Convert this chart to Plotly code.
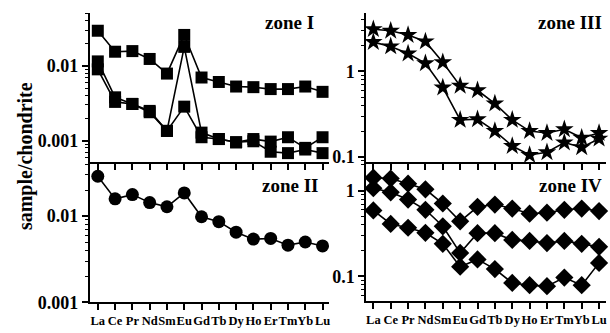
import plotly.graph_objects as go

ree = ["La", "Ce", "Pr", "Nd", "Sm", "Eu", "Gd", "Tb", "Dy", "Ho", "Er", "Tm", "Yb", "Lu"]

zone1_a = [0.0296, 0.0155, 0.0158, 0.0124, 0.0079, 0.026, 0.0070, 0.0061, 0.0053, 0.0052, 0.0049, 0.0049, 0.0053, 0.0045]
zone1_b = [0.0115, 0.0038, 0.0031, 0.0025, 0.00135, 0.018, 0.00128, 0.00105, 0.00095, 0.00105, 0.00097, 0.00111, 0.0008, 0.00111]
zone1_c = [0.009, 0.0033, 0.0031, 0.0024, 0.00135, 0.00285, 0.00111, 0.00105, 0.00095, 0.00098, 0.00071, 0.00068, 0.00076, 0.00068]

zone2 = [0.0289, 0.0158, 0.0177, 0.0143, 0.0128, 0.0185, 0.0098, 0.0086, 0.0065, 0.0054, 0.0055, 0.0046, 0.0050, 0.0045]

zone3_a = [3.1, 2.97, 2.65, 2.23, 1.27, 0.675, 0.60, 0.42, 0.27, 0.20, 0.19, 0.21, 0.167, 0.19]
zone3_b = [2.19, 1.95, 1.61, 1.24, 0.646, 0.27, 0.275, 0.20, 0.134, 0.105, 0.113, 0.147, 0.129, 0.163]

zone4_a = [1.42, 1.39, 1.21, 1.04, 0.71, 0.44, 0.65, 0.69, 0.62, 0.54, 0.555, 0.60, 0.62, 0.58]
zone4_b = [1.07, 0.96, 0.79, 0.60, 0.385, 0.188, 0.32, 0.32, 0.267, 0.26, 0.245, 0.26, 0.24, 0.222]
zone4_c = [0.59, 0.41, 0.37, 0.323, 0.24, 0.13, 0.158, 0.122, 0.084, 0.079, 0.077, 0.097, 0.079, 0.144]

FONT = "Liberation Serif"
W, H = 610, 333

fig = go.Figure()

def add(xa, ya, vals, symbol, size):
    fig.add_trace(go.Scatter(
        x=ree, y=vals, xaxis=xa, yaxis=ya, mode="lines+markers",
        line=dict(color="black", width=1.6),
        marker=dict(symbol=symbol, size=size, color="black"),
        cliponaxis=False,
        showlegend=False, hoverinfo="skip"))

for v in (zone1_a, zone1_b, zone1_c):
    add("x", "y", v, "square", 12)
add("x3", "y3", zone2, "circle", 13)
for v in (zone3_a, zone3_b):
    add("x2", "y2", v, "star", 14)
for v in (zone4_a, zone4_b, zone4_c):
    add("x4", "y4", v, "diamond", 14)

def px_x(p):
    return p / W

def px_y(p):
    return 1 - p / H

def xaxis(domain, rng, anchor, labels):
    return dict(domain=domain, anchor=anchor, type="category", range=rng,
                showline=True, linecolor="black", linewidth=2,
                ticks="outside", ticklen=6, tickwidth=1.5, tickcolor="black",
                showticklabels=labels, showgrid=False, zeroline=False,
                tickfont=dict(family=FONT, size=12.5, color="black", weight="bold"),
                tickangle=0)

def minor_vals(lo, hi):
    vals = []
    for e in range(lo, hi + 1):
        for m in range(2, 10):
            vals.append(m * 10 ** e)
    return vals

def yaxis(domain, rng, anchor, tv, tt, mlo, mhi):
    return dict(domain=domain, anchor=anchor, type="log", range=rng,
                showline=True, linecolor="black", linewidth=2,
                ticks="outside", ticklen=6, tickwidth=1.5, tickcolor="black",
                tickmode="array", tickvals=tv, ticktext=tt,
                minor=dict(tickmode="array", tickvals=minor_vals(mlo, mhi),
                           ticks="outside", ticklen=3, tickwidth=1.2, tickcolor="black"),
                showgrid=False, zeroline=False,
                tickfont=dict(family=FONT, size=18, color="black", weight="bold"))

left_dom = [px_x(90), px_x(330)]
right_dom = [px_x(367), px_x(607)]
top_dom = [px_y(167), px_y(13)]
bl_dom = [px_y(311.7), px_y(167)]
br_dom = [px_y(310), px_y(167)]

fig.update_layout(
    width=W, height=H, margin=dict(l=0, r=0, t=0, b=0),
    paper_bgcolor="white", plot_bgcolor="white",
    font=dict(family=FONT, color="black"),
    xaxis=xaxis(left_dom, [-0.46, 13.4], "y", False),
    yaxis=yaxis(top_dom, [-3.286, -1.286], "x", [0.001, 0.01], ["0.001", "0.01"], -4, -2),
    xaxis2=xaxis(right_dom, [-0.4, 13.4], "y2", False),
    yaxis2=yaxis(top_dom, [-1.06, 0.685], "x2", [0.1, 1], ["0.1", "1"], -2, 0),
    xaxis3=xaxis(left_dom, [-0.46, 13.4], "y3", True),
    yaxis3=yaxis(bl_dom, [-3.0, -1.374], "x3", [0.001, 0.01], ["0.001", "0.01"], -3, -2),
    xaxis4=xaxis(right_dom, [-0.4, 13.4], "y4", True),
    yaxis4=yaxis(br_dom, [-1.283, 0.336], "x4", [0.1, 1], ["0.1", "1"], -2, 0),
)

def label(text, xr, yc):
    fig.add_annotation(text=text, xref="paper", yref="paper", x=px_x(xr), y=px_y(yc),
                       xanchor="right", yanchor="middle", showarrow=False,
                       font=dict(family=FONT, size=19, color="black", weight="bold"))

label("zone I", 317, 23)
label("zone II", 321, 191)
label("zone III", 605, 23)
label("zone IV", 605, 191)

fig.add_annotation(text="sample/chondrite", xref="paper", yref="paper",
                   x=px_x(25), y=px_y(161), xanchor="center", yanchor="middle",
                   textangle=-90, showarrow=False,
                   font=dict(family=FONT, size=20, color="black", weight="bold"))

fig.write_html("out.html", config={"displayModeBar": False},
               post_script="document.body.style.margin='0';document.body.style.overflow='hidden';")
